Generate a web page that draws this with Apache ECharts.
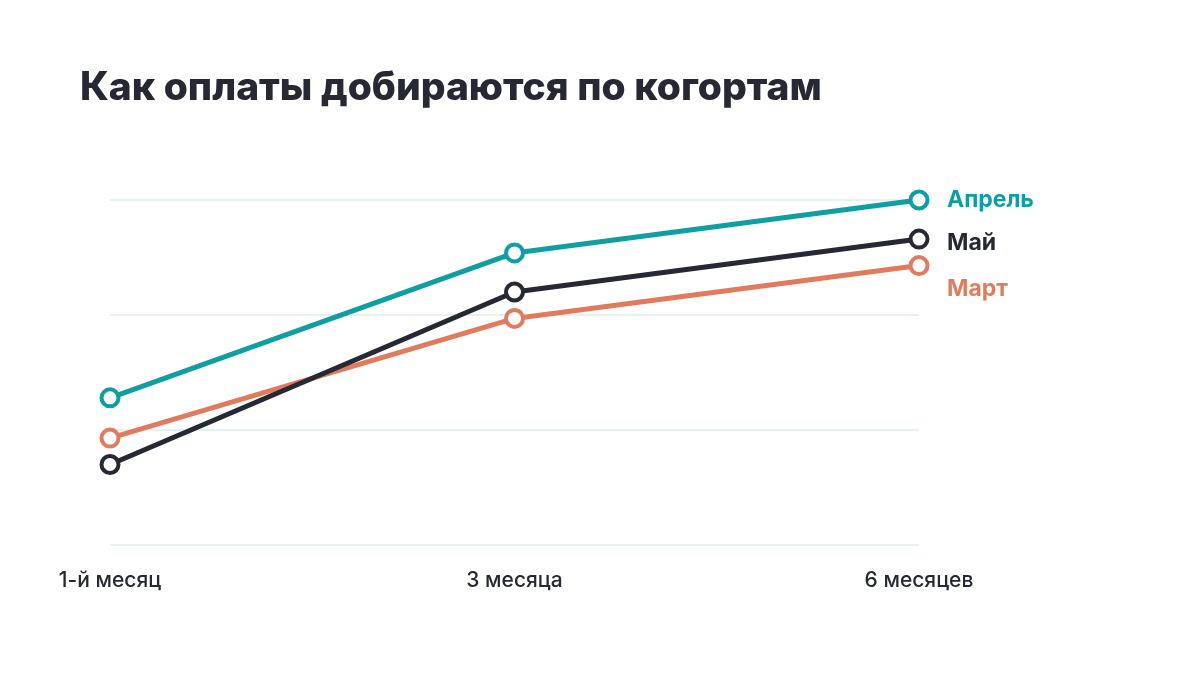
<!DOCTYPE html>
<html>
<head>
<meta charset="utf-8">
<script src="https://cdn.jsdelivr.net/npm/echarts@6/dist/echarts.min.js"></script>
<style>
    html, body { margin: 0; padding: 0; background: #ffffff; }
    #chart { width: 1200px; height: 675px; }
</style>
</head>
<body>
<div id="chart"></div>
<script>
// периоды когорт
var periods = ["1-й месяц", "3 месяца", "6 месяцев"];
// значения по когортам (условные единицы, шкала 0-30)
var aprilValues = [12.8, 25.4, 30.0];
var mayValues = [7.0, 22.0, 26.6];
var marchValues = [9.3, 19.7, 24.3];

var dark = "#262833";

function makeSeries(name, values, color, dy) {
    return {
        name: name,
        type: "line",
        data: values,
        symbol: "circle",
        symbolSize: 17,
        showAllSymbol: true,
        lineStyle: { color: color, width: 5 },
        itemStyle: { color: "#ffffff", borderWidth: 4, borderColor: color },
        emphasis: { disabled: true },
        endLabel: {
            show: true,
            formatter: name,
            distance: 28,
            offset: [0, dy],
            color: color,
            fontFamily: "Inter",
            fontWeight: "bold",
            fontSize: 23
        },
        z: 3
    };
}

var chart = echarts.init(document.getElementById("chart"));
chart.setOption({
    backgroundColor: "#ffffff",
    animation: false,
    title: {
        text: "Как оплаты добираются по когортам",
        left: 75,
        top: 64,
        textStyle: {
            fontFamily: "Inter",
            fontWeight: 800,
            fontSize: 39,
            color: dark
        }
    },
    grid: { left: 110, right: 281, top: 200, bottom: 130 },
    xAxis: {
        type: "category",
        data: periods,
        boundaryGap: false,
        axisLine: { show: false },
        axisTick: { show: false },
        axisLabel: {
            margin: 25,
            color: dark,
            fontFamily: "Inter",
            fontWeight: 500,
            fontSize: 21
        }
    },
    yAxis: {
        type: "value",
        min: 0,
        max: 30,
        interval: 10,
        axisLabel: { show: false },
        axisLine: { show: false },
        axisTick: { show: false },
        splitLine: { lineStyle: { color: "#e5f3f0", width: 2 } }
    },
    series: [
        makeSeries("Март", marchValues, "#e07c5d", 24),
        makeSeries("Май", mayValues, dark, 4),
        makeSeries("Апрель", aprilValues, "#0f9ea1", 0)
    ]
});
</script>
</body>
</html>
